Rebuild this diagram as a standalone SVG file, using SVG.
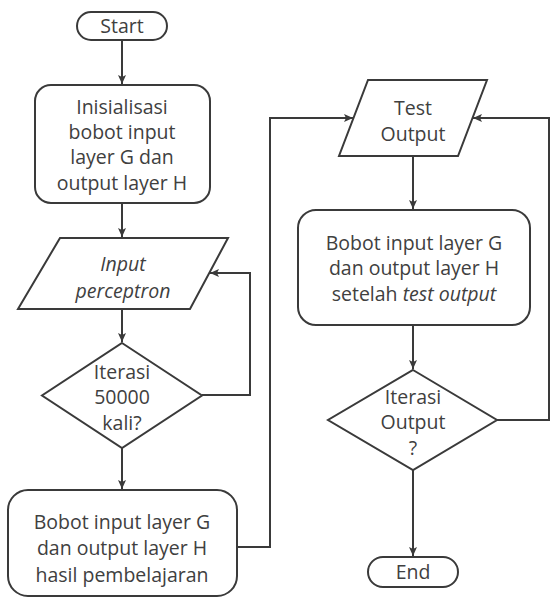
<svg xmlns="http://www.w3.org/2000/svg" width="550" height="600" viewBox="0 0 550 600">
<style>
.shape{fill:#ffffff;stroke:#3a3a3a;stroke-width:2}
.conn{fill:none;stroke:#3a3a3a;stroke-width:2}
text{font-family:"Open Sans","Liberation Sans",sans-serif;font-size:19.5px;fill:#404040;text-anchor:middle}
.it{font-style:italic}
</style>
<defs>
<marker id="arr" markerUnits="userSpaceOnUse" markerWidth="10" markerHeight="10" refX="9" refY="5" orient="auto">
<path d="M0,1 L9,5 L0,9 L2,5 z" fill="#3a3a3a"/>
</marker>
</defs>
<rect width="550" height="600" fill="#ffffff"/>
<g id="connectors">
<path class="conn" d="M122,40 V84" marker-end="url(#arr)"/>
<path class="conn" d="M122,203 V237" marker-end="url(#arr)"/>
<path class="conn" d="M122,309 V342" marker-end="url(#arr)"/>
<path class="conn" d="M202,395 H250 V273 H210" marker-end="url(#arr)"/>
<path class="conn" d="M122,448 V489" marker-end="url(#arr)"/>
<path class="conn" d="M237,547 H270 V118 H353" marker-end="url(#arr)"/>
<path class="conn" d="M413,156 V209" marker-end="url(#arr)"/>
<path class="conn" d="M413,325 V369" marker-end="url(#arr)"/>
<path class="conn" d="M497,420 H549 V118 H473" marker-end="url(#arr)"/>
<path class="conn" d="M413,470 V556" marker-end="url(#arr)"/>
</g>
<g id="start">
<rect class="shape" x="77" y="12" width="90" height="28" rx="14"/>
<text x="122" y="33">Start</text>
</g>
<g id="init">
<rect class="shape" x="35" y="85" width="175" height="118" rx="16"/>
<text x="122" y="114">Inisialisasi</text>
<text x="122" y="139">bobot input</text>
<text x="122" y="164">layer G dan</text>
<text x="122" y="190">output layer H</text>
</g>
<g id="input">
<polygon class="shape" points="60,238 228,238 190,309 18,309"/>
<text class="it" x="123" y="271">Input</text>
<text class="it" x="123" y="298">perceptron</text>
</g>
<g id="iter1">
<polygon class="shape" points="122,343 202,395.5 122,448 42,395.5"/>
<text x="122" y="379">Iterasi</text>
<text x="122" y="404">50000</text>
<text x="122" y="430">kali?</text>
</g>
<g id="hasil">
<rect class="shape" x="8" y="490" width="229" height="106" rx="20"/>
<text x="122" y="529">Bobot input layer G</text>
<text x="122" y="555">dan output layer H</text>
<text x="122" y="582">hasil pembelajaran</text>
</g>
<g id="test">
<polygon class="shape" points="368,80 487,80 458,156 339,156"/>
<text x="413" y="115">Test</text>
<text x="413" y="141">Output</text>
</g>
<g id="setelah">
<rect class="shape" x="298" y="210" width="232" height="115" rx="18"/>
<text x="414" y="250">Bobot input layer G</text>
<text x="414" y="275">dan output layer H</text>
<text x="414" y="301">setelah <tspan class="it">test output</tspan></text>
</g>
<g id="iter2">
<polygon class="shape" points="413,370 497,420 413,470 328,420"/>
<text x="413" y="404">Iterasi</text>
<text x="413" y="429">Output</text>
<text x="413" y="455">?</text>
</g>
<g id="end">
<rect class="shape" x="368" y="557" width="90" height="30" rx="15"/>
<text x="413" y="579">End</text>
</g>
</svg>
